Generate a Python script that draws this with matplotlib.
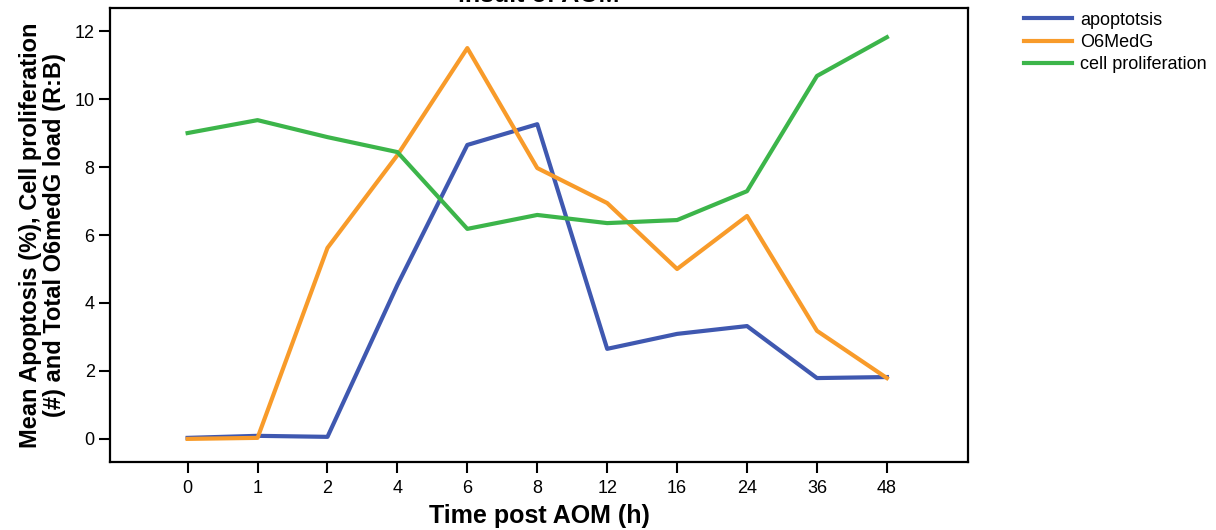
import numpy as np
import matplotlib
matplotlib.use("Agg")
import matplotlib.pyplot as plt

plt.rcParams['font.family'] = ['Liberation Sans', 'DejaVu Sans']

# time points (categorical axis)
time_labels = ["0", "1", "2", "4", "6", "8", "12", "16", "24", "36", "48"]
apoptosis = [0.03, 0.09, 0.06, 4.53, 8.65, 9.26, 2.65, 3.09, 3.32, 1.79, 1.82]
o6medg = [0.0, 0.03, 5.62, 8.35, 11.5, 7.97, 6.94, 5.0, 6.56, 3.18, 1.79]
cell_prolif = [9.0, 9.38, 8.88, 8.44, 6.18, 6.59, 6.35, 6.44, 7.29, 10.68, 11.82]

x = np.arange(len(time_labels))

fig = plt.figure(figsize=(12.16, 5.3), dpi=100)
ax = fig.add_axes([110 / 1216, 1 - 462 / 530, 858 / 1216, 454 / 530])

ax.plot(x, apoptosis, color="#3f58b0", lw=3, label="apoptotsis")
ax.plot(x, o6medg, color="#f89b2a", lw=3, label="O6MedG")
ax.plot(x, cell_prolif, color="#3cb54a", lw=3, label="cell proliferation")

ax.set_xlim(-1.11, 11.16)
ax.set_ylim(-0.68, 12.68)
ax.set_xticks(x)
ax.set_xticklabels(time_labels)
ax.set_yticks([0, 2, 4, 6, 8, 10, 12])

for s in ax.spines.values():
    s.set_linewidth(1.6)
ax.tick_params(axis="both", direction="out", length=8, width=1.5, labelsize=13)
ax.tick_params(axis="x", pad=5)
ax.tick_params(axis="y", pad=3)

ax.set_xlabel("Time post AOM (h)", fontsize=18, fontweight="bold", labelpad=5)
ax.set_ylabel("Mean Apoptosis (%), Cell proliferation\n(#) and Total O6medG load (R:B)",
              fontsize=17, fontweight="bold", labelpad=6, linespacing=1.05)

# title is cut off by the top of the image
fig.text(0.5 * (110 + 968) / 1216, 1 - 7 / 530, "insult of AOM",
         ha="center", va="bottom", fontsize=18, fontweight="bold")

ax.legend(loc="upper left", bbox_to_anchor=(1.05, 1.02), frameon=False,
          fontsize=13, handlelength=2.7, handletextpad=0.45, labelspacing=0.3,
          borderaxespad=0.3)

fig.savefig("out.png", dpi=100)
